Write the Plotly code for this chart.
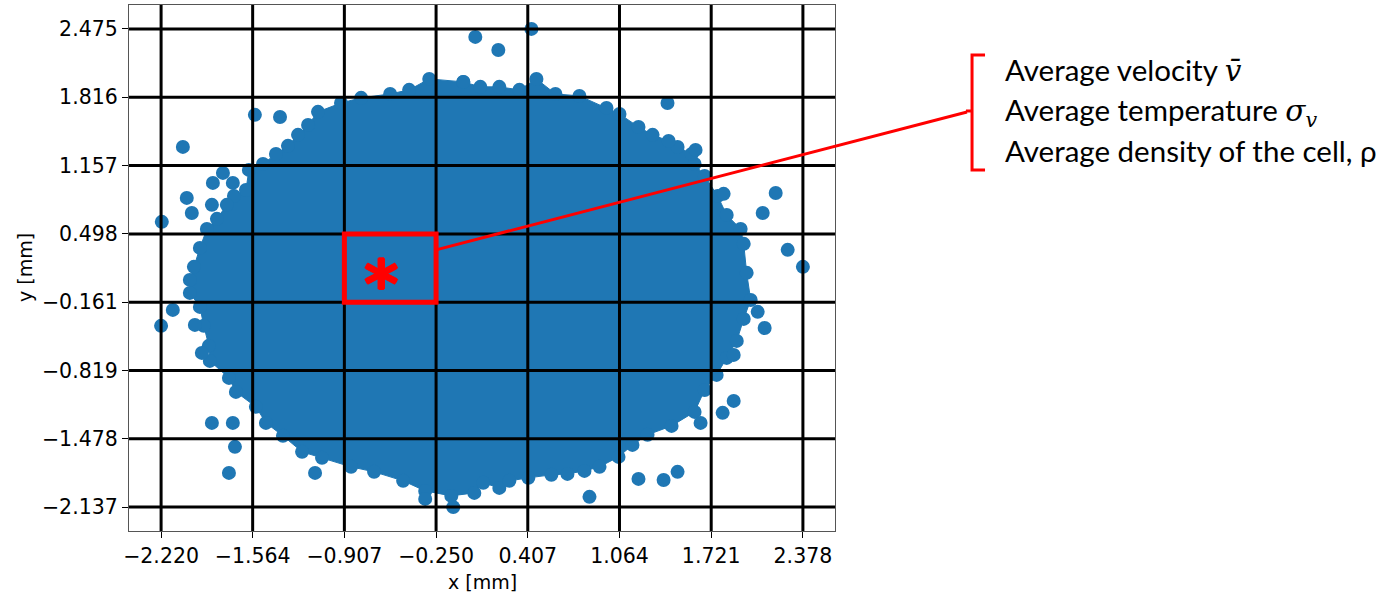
import plotly.graph_objects as go

# Outline of the dense particle cloud (marker centres along its edge, mm)
cloud_x = [-0.055, -0.299, -0.443, -0.579, -0.787, -0.931, -1.096, -1.167, -1.239, -1.311,
           -1.397, -1.490, -1.591, -1.612, -1.698, -1.749, -1.820, -1.892, -1.942, -1.985,
           -2.014, -2.014, -1.942, -1.914, -1.878, -1.871, -1.734, -1.684, -1.541, -1.469,
           -1.347, -1.210, -1.067, -0.859, -0.694, -0.486, -0.328, -0.141, 0.024, 0.088,
           0.203, 0.275, 0.411, 0.576, 0.691, 0.813, 0.921, 1.057, 1.157, 1.265,
           1.437, 1.602, 1.674, 1.760, 1.832, 1.904, 1.954, 2.004, 1.975, 1.954,
           1.932, 1.832, 1.767, 1.674, 1.602, 1.581, 1.480, 1.416, 1.301, 1.200,
           1.064, 0.971, 0.777, 0.605, 0.469, 0.347, 0.203, 0.067]
cloud_y = [1.964, 1.993, 1.887, 1.848, 1.810, 1.761, 1.675, 1.549, 1.453, 1.347,
           1.269, 1.173, 1.115, 0.922, 0.864, 0.778, 0.643, 0.546, 0.363, 0.180,
           0.054, -0.071, -0.206, -0.389, -0.582, -0.727, -0.891, -1.026, -1.170, -1.325,
           -1.450, -1.604, -1.662, -1.749, -1.797, -1.884, -1.981, -2.029, -2.000, -1.903,
           -1.952, -1.884, -1.855, -1.826, -1.817, -1.788, -1.749, -1.653, -1.537, -1.440,
           -1.354, -1.219, -1.007, -0.862, -0.698, -0.534, -0.322, -0.139, 0.122, 0.402,
           0.546, 0.681, 0.864, 1.057, 1.173, 1.269, 1.337, 1.395, 1.453, 1.530,
           1.655, 1.713, 1.829, 1.848, 1.993, 1.887, 1.916, 1.916]

# Isolated particles outside the dense core (mm)
stray_x = [0.031, 0.196, 0.433, 1.408, 1.609, 1.810, 2.183, 2.090, 2.269, 2.378,
           2.054, 2.104, 1.882, 1.882, 1.803, 1.645, 1.480, 1.380, 1.200, 0.849,
           -0.127, -0.328, -1.117, -1.734, -1.691, -1.856, -1.706, -2.136, -2.220, -1.978,
           -1.928, -2.215, -2.036, -2.000, -1.856, -2.064, -1.548, -1.368, -1.777, -1.849,
           -1.706]
stray_y = [2.398, 2.272, 2.475, 1.761, 1.308, 0.884, 0.893, 0.700, 0.344, 0.180,
           -0.254, -0.409, -0.669, -1.113, -1.228, -1.325, -1.797, -1.875, -1.865, -2.038,
           -2.137, -2.058, -1.807, -1.807, -1.556, -1.325, -1.325, -0.235, -0.389, -0.380,
           -0.650, 0.614, 0.845, 0.700, 0.778, 1.337, 1.646, 1.626, 1.086, 0.990,
           0.990]

# Cell grid / tick positions (mm)
x_ticks = [-2.220, -1.564, -0.907, -0.250, 0.407, 1.064, 1.721, 2.378]
x_tick_text = ["−2.220", "−1.564", "−0.907", "−0.250", "0.407", "1.064", "1.721", "2.378"]
y_ticks = [2.475, 1.816, 1.157, 0.498, -0.161, -0.819, -1.478, -2.137]
y_tick_text = ["2.475", "1.816", "1.157", "0.498", "−0.161", "−0.819", "−1.478", "−2.137"]

# Highlighted cell (column / row edges), where the connector leaves it, and its labels
cell_x = [-0.907, -0.250]
cell_y = [-0.161, 0.498]
connector_y = 0.344
MATH = "<span style=\"font-family:'DejaVu Serif'\">"
cell_labels = [
    "Average velocity " + MATH + "<i>v̄</i></span>",
    "Average temperature " + MATH + "<i>σ</i><sub><i>v</i></sub></span>",
    "Average density of the cell, ρ",
]

BLUE = "#1f77b4"
RED = "#ff0000"

all_x = cloud_x + stray_x
all_y = cloud_y + stray_y
pad_x = 0.05 * (max(all_x) - min(all_x))
pad_y = 0.05 * (max(all_y) - min(all_y))
x_range = [min(all_x) - pad_x, max(all_x) + pad_x]
y_range = [min(all_y) - pad_y, max(all_y) + pad_y]

fig = go.Figure()
fig.add_trace(go.Scatter(
    x=cloud_x + cloud_x[:1], y=cloud_y + cloud_y[:1],
    mode="lines+markers", fill="toself", fillcolor=BLUE,
    line=dict(color=BLUE, width=1),
    marker=dict(color=BLUE, size=14, line=dict(width=0)),
    hoverinfo="skip", showlegend=False,
))
fig.add_trace(go.Scatter(
    x=stray_x, y=stray_y, mode="markers",
    marker=dict(color=BLUE, size=14, line=dict(width=0)),
    showlegend=False,
))

shapes = []
# grid drawn on top of the particles
for xv in x_ticks:
    shapes.append(dict(type="line", xref="x", yref="paper", x0=xv, x1=xv, y0=0, y1=1,
                       line=dict(color="black", width=3), layer="above"))
for yv in y_ticks:
    shapes.append(dict(type="line", xref="paper", yref="y", x0=0, x1=1, y0=yv, y1=yv,
                       line=dict(color="black", width=3), layer="above"))
# highlighted cell
shapes.append(dict(type="rect", xref="x", yref="y", x0=cell_x[0], x1=cell_x[1],
                   y0=cell_y[0], y1=cell_y[1], line=dict(color=RED, width=5),
                   fillcolor="rgba(0,0,0,0)", layer="above"))
# bracket around the cell quantities, with a small nub at its middle
shapes.append(dict(type="path", xref="paper", yref="paper",
                   path="M 1.2125 0.9049 L 1.1941 0.9049 L 1.1941 0.6863 L 1.2125 0.6863",
                   line=dict(color=RED, width=3), layer="above"))
shapes.append(dict(type="line", xref="paper", yref="paper", x0=1.1855, x1=1.1941,
                   y0=0.7985, y1=0.7985, line=dict(color=RED, width=3), layer="above"))
# connector from the cell edge to the bracket
cx = (cell_x[1] - x_range[0]) / (x_range[1] - x_range[0])
cy = (connector_y - y_range[0]) / (y_range[1] - y_range[0])
shapes.append(dict(type="line", xref="paper", yref="paper", x0=cx, y0=cy,
                   x1=1.1870, y1=0.7966, line=dict(color=RED, width=3), layer="above"))

annotations = [
    # asterisk marking the selected cell
    dict(x=-0.644, y=0.151, xref="x", yref="y", text="<b>*</b>", showarrow=False,
         font=dict(family="DejaVu Sans", size=66, color=RED,
                   shadow="1px 0 0 #ff0000, -1px 0 0 #ff0000, 0 1px 0 #ff0000, 0 -1px 0 #ff0000"),
         xanchor="center", yanchor="middle", yshift=-15),
    # axis titles
    dict(x=0.5, y=-0.097, xref="paper", yref="paper", text="x [mm]", showarrow=False,
         font=dict(family="DejaVu Sans", size=19, color="black"),
         xanchor="center", yanchor="middle"),
    dict(x=-0.1473, y=0.5, xref="paper", yref="paper", text="y [mm]", showarrow=False,
         textangle=-90, font=dict(family="DejaVu Sans", size=19, color="black"),
         xanchor="center", yanchor="middle"),
]
label_y = [0.8764, 0.7966, 0.7243]
for txt, ly in zip(cell_labels, label_y):
    annotations.append(dict(x=1.238, y=ly, xref="paper", yref="paper", text=txt,
                            showarrow=False, xanchor="left", yanchor="middle",
                            font=dict(family="Lato", size=29.5, color="black")))

axis_common = dict(
    showgrid=False, zeroline=False, showline=True, mirror=True,
    linecolor="#555555", linewidth=1.2, ticks="outside", ticklen=6,
    tickwidth=1.2, tickcolor="black",
    tickfont=dict(family="DejaVu Sans", size=20.5, color="black"),
)
fig.update_xaxes(range=x_range, tickmode="array", tickvals=x_ticks,
                 ticktext=x_tick_text, **axis_common)
fig.update_yaxes(range=y_range, tickmode="array", tickvals=y_ticks,
                 ticktext=y_tick_text, **axis_common)

fig.update_layout(
    width=1380, height=593,
    margin=dict(l=129, r=545, t=5, b=62),
    paper_bgcolor="white", plot_bgcolor="white",
    shapes=shapes, annotations=annotations,
    showlegend=False,
)

fig.write_html("out.html")
